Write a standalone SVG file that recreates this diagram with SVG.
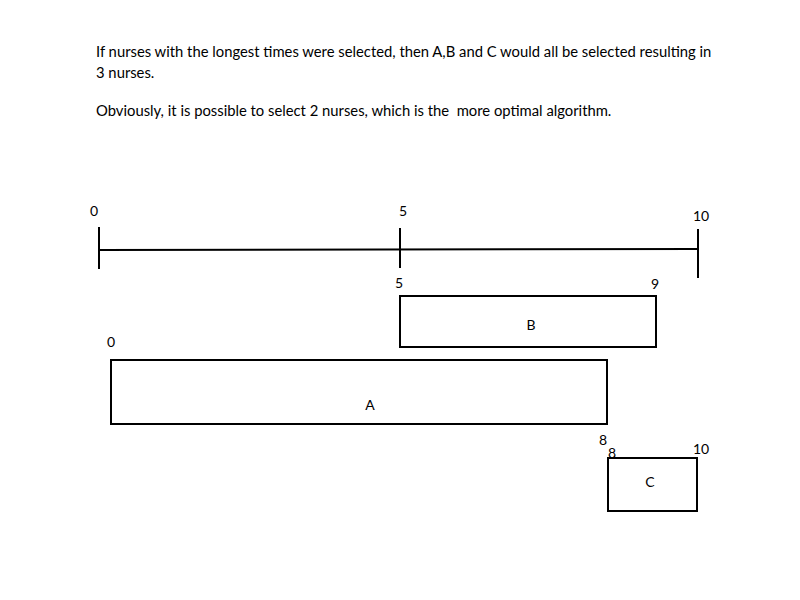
<svg xmlns="http://www.w3.org/2000/svg" width="800" height="600" viewBox="0 0 800 600">
<style>
text{font-family:Lato,"Liberation Sans",sans-serif;font-size:14px;fill:#000}
.t{font-size:14.8px;white-space:pre}
.m{text-anchor:middle}
.b{fill:#fff;stroke:#000;stroke-width:2}
.ax{stroke:#000;stroke-width:2}
</style>
<rect width="800" height="600" fill="#fff"/>
<g id="caption">
<text class="t" x="96" y="57">If nurses with the longest times were selected, then A,B and C would all be selected resulting in</text>
<text class="t" x="96" y="78">3 nurses.</text>
<text class="t" x="96" y="116" xml:space="preserve">Obviously, it is possible to select 2 nurses, which is the  more optimal algorithm.</text>
</g>
<g id="axis">
<line class="ax" x1="99" y1="250" x2="698" y2="249"/>
<line class="ax" x1="99" y1="227" x2="99" y2="269"/>
<line class="ax" x1="400" y1="228" x2="400" y2="268"/>
<line class="ax" x1="698" y1="229" x2="698" y2="278"/>
<text class="m" x="94" y="216">0</text>
<text class="m" x="403" y="216">5</text>
<text class="m" x="701" y="221">10</text>
<text class="m" x="399" y="288">5</text>
<text class="m" x="655" y="289">9</text>
</g>
<g id="labelC8b"><text class="m" x="612" y="458">8</text></g>
<g id="B">
<rect class="b" x="400" y="296" width="256" height="51"/>
<text class="m" x="531" y="330">B</text>
</g>
<g id="A">
<text class="m" x="111" y="347">0</text>
<rect class="b" x="111" y="360" width="496" height="64"/>
<text class="m" x="370" y="410">A</text>
</g>
<g id="C">
<text class="m" x="603" y="445">8</text>
<rect class="b" x="608" y="458" width="89" height="53"/>
<text class="m" x="701" y="454">10</text>
<text class="m" x="650" y="487">C</text>
</g>
</svg>
